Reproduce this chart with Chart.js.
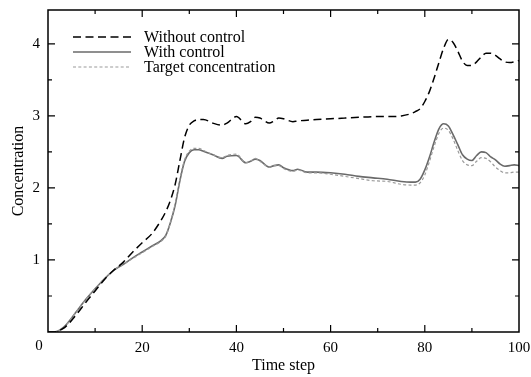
<!DOCTYPE html>
<html>
<head>
<meta charset="utf-8">
<script src="https://cdn.jsdelivr.net/npm/chart.js@4"></script>
<style>
  body { margin: 0; background: #fff; }
</style>
</head>
<body>
<canvas id="chart" width="531" height="377"></canvas>
<script>
const times = [
  0, 1, 2, 3, 4, 6, 8, 10, 12, 14,
  16, 18, 20, 22, 24, 25, 26, 27, 28, 29,
  30, 31, 32, 33, 35, 37, 38, 40, 42, 43,
  44, 45, 47, 48, 49, 50, 52, 53, 55, 57,
  60, 63, 66, 69, 72, 75, 77, 78, 79, 80,
  81, 82, 83, 84, 85, 86, 87, 88, 89, 90,
  91, 92, 93, 94, 95, 96, 97, 98, 99, 100
];

const withoutControl = [
  0, 0, 0.01, 0.04, 0.09, 0.24, 0.41, 0.57, 0.73, 0.86,
  0.97, 1.11, 1.24, 1.36, 1.55, 1.67, 1.83, 2.05, 2.38, 2.70,
  2.87, 2.93, 2.95, 2.95, 2.90, 2.87, 2.90, 2.99, 2.89, 2.92,
  2.98, 2.97, 2.90, 2.93, 2.97, 2.96, 2.92, 2.93, 2.94, 2.95,
  2.96, 2.97, 2.98, 2.99, 2.99, 3.00, 3.03, 3.06, 3.10, 3.20,
  3.34, 3.53, 3.74, 3.94, 4.06, 4.02, 3.90, 3.76, 3.70, 3.70,
  3.75, 3.82, 3.87, 3.87, 3.84, 3.79, 3.75, 3.74, 3.75, 3.77
];

const withControl = [
  0, 0, 0.01, 0.05, 0.11, 0.28, 0.45, 0.60, 0.74, 0.86,
  0.94, 1.03, 1.11, 1.19, 1.27, 1.34, 1.52, 1.76, 2.10, 2.37,
  2.49, 2.53, 2.53, 2.51, 2.46, 2.41, 2.44, 2.45, 2.35, 2.37,
  2.40, 2.38, 2.29, 2.31, 2.32, 2.28, 2.24, 2.26, 2.22, 2.22,
  2.21, 2.19, 2.16, 2.14, 2.12, 2.09, 2.08, 2.08, 2.12, 2.25,
  2.43, 2.64, 2.82, 2.89, 2.86, 2.74, 2.60, 2.46, 2.40, 2.38,
  2.45, 2.50, 2.49, 2.43, 2.39, 2.33, 2.30, 2.31, 2.32, 2.31
];

const targetConc = [
  0, 0, 0.01, 0.05, 0.11, 0.28, 0.45, 0.60, 0.74, 0.86,
  0.94, 1.02, 1.10, 1.18, 1.26, 1.33, 1.52, 1.78, 2.12, 2.39,
  2.51, 2.55, 2.55, 2.52, 2.46, 2.42, 2.45, 2.47, 2.35, 2.37,
  2.41, 2.37, 2.29, 2.31, 2.31, 2.27, 2.23, 2.25, 2.21, 2.21,
  2.19, 2.16, 2.13, 2.10, 2.09, 2.05, 2.04, 2.04, 2.07, 2.18,
  2.37, 2.58, 2.76, 2.83, 2.80, 2.68, 2.52, 2.38, 2.32, 2.31,
  2.37, 2.42, 2.41, 2.36, 2.29, 2.24, 2.21, 2.21, 2.22, 2.22
];

const seriesNames = ["Without control", "With control", "Target concentration"];

const FONT = "'Liberation Serif', 'DejaVu Serif', serif";

const toPoints = vals => times.map((t, i) => ({ x: t, y: vals[i] }));

// frame, inward ticks, legend and the shared "0"
const framePlugin = {
  id: "frame",
  afterDraw(chart) {
    const { ctx, chartArea: a, scales: { x, y } } = chart;
    ctx.save();
    ctx.strokeStyle = "#000";
    ctx.lineWidth = 1.5;
    ctx.strokeRect(a.left, a.top, a.right - a.left, a.bottom - a.top);

    ctx.lineWidth = 1.2;
    ctx.beginPath();
    for (let v = 10; v < 100; v += 10) {
      const px = x.getPixelForValue(v);
      const len = v % 20 === 0 ? 7 : 4;
      ctx.moveTo(px, a.bottom); ctx.lineTo(px, a.bottom - len);
      ctx.moveTo(px, a.top); ctx.lineTo(px, a.top + len);
    }
    for (let v = 0.5; v < y.max; v += 0.5) {
      const py = y.getPixelForValue(v);
      const len = v % 1 === 0 ? 7 : 4;
      ctx.moveTo(a.left, py); ctx.lineTo(a.left + len, py);
      ctx.moveTo(a.right, py); ctx.lineTo(a.right - len, py);
    }
    ctx.stroke();

    ctx.fillStyle = "#000";
    ctx.font = "15px " + FONT;
    ctx.textAlign = "center";
    ctx.textBaseline = "middle";
    ctx.fillText("0", a.left - 9, a.bottom + 14);

    // legend, in the order of the names
    const rows = [37, 52, 67];
    seriesNames.forEach((name, i) => {
      const ds = chart.data.datasets.find(d => d.label === name);
      ctx.beginPath();
      ctx.strokeStyle = ds.borderColor;
      ctx.lineWidth = ds.borderWidth;
      ctx.setLineDash(ds.borderDash || []);
      ctx.moveTo(73, rows[i]);
      ctx.lineTo(131, rows[i]);
      ctx.stroke();
      ctx.setLineDash([]);
      ctx.fillStyle = "#000";
      ctx.font = "16px " + FONT;
      ctx.textAlign = "left";
      ctx.fillText(name, 144, rows[i] + 1);
    });
    ctx.restore();
  }
};

new Chart(document.getElementById("chart"), {
  type: "line",
  data: {
    datasets: [
      {
        label: seriesNames[0],
        data: toPoints(withoutControl),
        borderColor: "#000",
        borderWidth: 1.5,
        borderDash: [8, 4.5]
      },
      {
        label: seriesNames[2],
        data: toPoints(targetConc),
        borderColor: "#9a9a9a",
        borderWidth: 1.2,
        borderDash: [3, 2.3]
      },
      {
        label: seriesNames[1],
        data: toPoints(withControl),
        borderColor: "#6a6a6a",
        borderWidth: 1.6
      }
    ]
  },
  options: {
    responsive: false,
    animation: false,
    layout: { padding: { top: 10, right: 12, left: 0, bottom: 0 } },
    elements: {
      point: { radius: 0 },
      line: { cubicInterpolationMode: "monotone", fill: false }
    },
    plugins: {
      legend: { display: false },
      tooltip: { enabled: false }
    },
    scales: {
      x: {
        type: "linear",
        min: 0,
        max: 100,
        grid: { display: false, drawTicks: false },
        border: { display: false },
        ticks: {
          stepSize: 20,
          padding: 7,
          color: "#000",
          font: { family: FONT, size: 15 },
          maxRotation: 0,
          callback: v => (v === 0 ? "" : v)
        },
        title: {
          display: true,
          text: "Time step",
          color: "#000",
          font: { family: FONT, size: 16 },
          padding: { top: 0, bottom: 2 }
        },
        afterFit: s => {
          s.height = 45;
          s.paddingLeft = 0;
          s.paddingRight = 0;
        }
      },
      y: {
        min: 0,
        max: 4.47,
        grid: { display: false, drawTicks: false },
        border: { display: false },
        ticks: {
          stepSize: 1,
          padding: 8,
          color: "#000",
          font: { family: FONT, size: 15 },
          callback: v => (v > 0 && Number.isInteger(v) ? v : "")
        },
        title: {
          display: true,
          text: "Concentration",
          color: "#000",
          font: { family: FONT, size: 16 },
          padding: { top: 9, bottom: 0 }
        },
        afterFit: s => {
          s.width = 48;
          s.paddingTop = 0;
          s.paddingBottom = 0;
        }
      }
    }
  },
  plugins: [framePlugin]
});
</script>
</body>
</html>
